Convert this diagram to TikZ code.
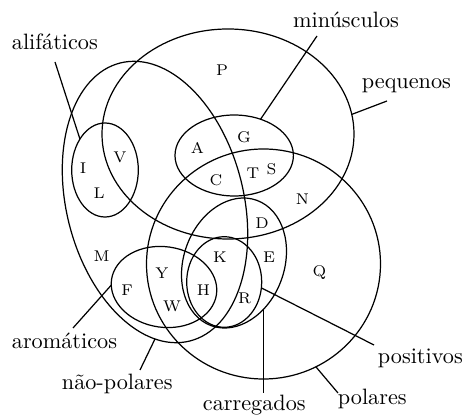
\documentclass[tikz,border=0pt]{standalone}
\usepackage{fontspec}
\usetikzlibrary{shapes.geometric}
\begin{document}
\begin{tikzpicture}[x=0.45pt, y=-0.45pt, line width=0.55pt,
  ell/.style 2 args={draw, ellipse, inner sep=0pt, outer sep=0pt,
    minimum width=#1*0.45pt, minimum height=#2*0.45pt},
  lab/.style={inner sep=0pt, anchor=base west, font=\normalsize},
  aa/.style={inner sep=0pt, font=\scriptsize}]
\useasboundingbox (0,0) rectangle (464,415);
% sets
\node[ell={252}{210}] (peq) at (228,134) {};
\node[ell={177.2}{286.6}, rotate=14] (np) at (155,202) {};
\node[ell={66.6}{94}] (alif) at (105,170) {};
\node[ell={118.4}{81}] (minus) at (234.2,155.5) {};
\node[ell={234}{230}] (pol) at (263.5,264) {};
\node[ell={100.6}{133.4}, rotate=-20] (carr) at (234,263) {};
\node[ell={75}{90.6}] (pos) at (224.2,282) {};
\node[ell={106}{80.6}, rotate=-8] (arom) at (164,287) {};
% letters
\node[aa] (P) at (222,70.5) {P};
\node[aa] (I) at (83,168.5) {I};
\node[aa] (L) at (99,193.5) {L};
\node[aa] (V) at (120,157.5) {V};
\node[aa] (A) at (197.5,147.5) {A};
\node[aa] (G) at (244,137) {G};
\node[aa] (C) at (216,180) {C};
\node[aa] (T) at (253,173.5) {T};
\node[aa] (S) at (271.5,169) {S};
\node[aa] (N) at (302.5,199) {N};
\node[aa] (D) at (262,223.5) {D};
\node[aa] (K) at (220,257) {K};
\node[aa] (E) at (269,257) {E};
\node[aa] (H) at (203.5,290) {H};
\node[aa] (R) at (244.5,298.5) {R};
\node[aa] (Q) at (319.5,272.5) {Q};
\node[aa] (M) at (101.5,256) {M};
\node[aa] (F) at (127,290) {F};
\node[aa] (Y) at (162,273.5) {Y};
\node[aa] (W) at (172,306) {W};
% labels
\node[lab] (tAlif) at (11.3,50) {alifáticos};
\node[lab] (tMin) at (292.5,28) {minúsculos};
\node[lab] (tPeq) at (361.3,88.5) {pequenos};
\node[lab] (tArom) at (11.3,348) {aromáticos};
\node[lab] (tNP) at (61.3,390) {não-polares};
\node[lab] (tCarr) at (202.3,410.5) {carregados};
\node[lab] (tPos) at (377.3,364) {positivos};
\node[lab] (tPol) at (337.3,405) {polares};
% connector ends
\coordinate (cAlif) at (55,62);
\coordinate (cMin) at (317,36);
\coordinate (cPeq) at (387,101);
\coordinate (cArom) at (73,328);
\coordinate (cNP) at (140,370);
\coordinate (cCarr) at (263.3,393);
\coordinate (cPos) at (374,345);
\coordinate (cPol) at (338,393);
\draw (cAlif) -- (alif.129);
\draw (cMin) -- (minus.54);
\draw (cPeq) -- (peq.9);
\draw (cArom) -- (arom.186);
\draw (cNP) -- (np.-104);
\draw (cCarr) -- (cCarr |- carr.-38);
\draw (cPos) -- (pos.-9);
\draw (cPol) -- (pol.-63);
\end{tikzpicture}
\end{document}
